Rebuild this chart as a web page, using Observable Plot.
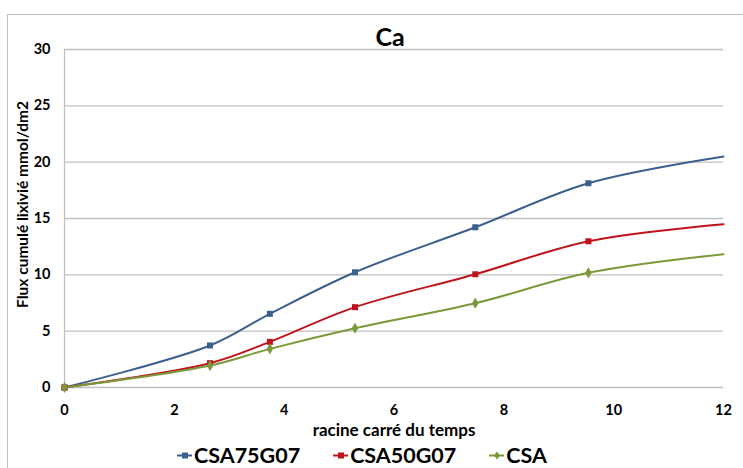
<!DOCTYPE html>
<html>
<head>
<meta charset="utf-8">
<script src="https://cdn.jsdelivr.net/npm/d3@7"></script>
<script src="https://cdn.jsdelivr.net/npm/@observablehq/plot@0.6"></script>
<style>
  html, body { margin: 0; padding: 0; background: #fff; }
  #wrap { position: relative; width: 743px; height: 468px; overflow: hidden; font-family: Lato, "Open Sans", sans-serif; }
  #frame { position: absolute; left: 7px; top: 14px; width: 760px; height: 480px; border: 1px solid #bfbfbf; box-sizing: border-box; }
  #title { position: absolute; left: 0; width: 780px; top: 21px; text-align: center; font-size: 25px; font-weight: bold; color: #000; }
  #chart { position: absolute; left: 0; top: 0; }
  #legend { position: absolute; left: 177px; top: 442px; display: flex; justify-content: flex-start; gap: 33px; font-size: 21.5px; font-weight: bold; color: #000; }
  .item { display: flex; align-items: center; gap: 2px; }
  .item svg { display: block; }
</style>
</head>
<body>
<div id="wrap">
  <div id="frame"></div>
  <div id="chart"></div>
  <div id="title">Ca</div>
  <div id="legend"></div>
</div>
<script>
const xValues = [0, 2.65, 3.74, 5.29, 7.48, 9.54, 12];
const seriesNames = ["CSA75G07", "CSA50G07", "CSA"];
const csa75g07 = [0, 3.73, 6.54, 10.23, 14.22, 18.13, 20.5];
const csa50g07 = [0, 2.16, 4.05, 7.13, 10.05, 12.98, 14.49];
const csa = [0, 1.95, 3.43, 5.26, 7.48, 10.18, 11.83];
const colors = ["#3b5f8f", "#c0141c", "#7a9a3a"];
const symbols = ["square", "square", "diamond"];
const xTicks = [0, 2, 4, 6, 8, 10, 12];
const yTicks = [0, 5, 10, 15, 20, 25, 30];
const xLabel = "racine carré du temps";
const yLabel = "Flux cumulé lixivié mmol/dm2";

const allValues = [csa75g07, csa50g07, csa];
const rows = [];
seriesNames.forEach((name, s) => {
  xValues.forEach((x, i) => rows.push({series: name, x, y: allValues[s][i], last: i === xValues.length - 1}));
});

const chart = Plot.plot({
  width: 743,
  height: 468,
  marginLeft: 64,
  marginRight: 20,
  marginTop: 49,
  marginBottom: 81,
  style: {fontFamily: "Lato, 'Open Sans', sans-serif", fontSize: "14px", fontWeight: "bold", color: "#000", background: "transparent"},
  x: {domain: [0, 12]},
  y: {domain: [0, 30]},
  color: {domain: seriesNames, range: colors},
  symbol: {domain: seriesNames, range: symbols},
  marks: [
    Plot.gridY(yTicks, {stroke: "#bfbfbf", strokeOpacity: 1, strokeWidth: 1.3}),
    Plot.ruleX([0], {stroke: "#bfbfbf", strokeWidth: 1.3}),
    Plot.axisX({ticks: xTicks, tickSize: 0, tickPadding: 17, fontSize: 14.5, fontWeight: "bold", label: null}),
    Plot.axisY({ticks: yTicks, tickSize: 0, tickPadding: 14, fontSize: 14.5, fontWeight: "bold", label: null}),
    Plot.text([xLabel], {text: d => d, frameAnchor: "bottom", lineAnchor: "middle", textAnchor: "middle", dy: 43, fontSize: 17, fontWeight: "bold", fill: "#000"}),
    Plot.text([yLabel], {text: d => d, frameAnchor: "left", lineAnchor: "middle", textAnchor: "middle", dx: -41, dy: -14, rotate: -90, fontSize: 15.5, fontWeight: "bold", fill: "#000"}),
    Plot.line(rows, {x: "x", y: "y", z: "series", stroke: "series", strokeWidth: 2, curve: "catmull-rom"}),
    Plot.dot(rows.filter(d => !d.last), {x: "x", y: "y", fill: "series", symbol: "series", r: 3.4, stroke: "none"})
  ]
});
document.getElementById("chart").appendChild(chart);

const legend = document.getElementById("legend");
seriesNames.forEach((name, i) => {
  const item = document.createElement("div");
  item.className = "item";
  const sym = symbols[i] === "square"
    ? `<rect x="5" y="3.5" width="6" height="6" fill="${colors[i]}"/>`
    : `<path d="M8 2.5 L11 6.5 L8 10.5 L5 6.5 Z" fill="${colors[i]}"/>`;
  item.innerHTML = `<svg width="15" height="13"><line x1="0" y1="6.5" x2="15" y2="6.5" stroke="${colors[i]}" stroke-width="2"/>${sym}</svg><span>${name}</span>`;
  legend.appendChild(item);
});
</script>
</body>
</html>
